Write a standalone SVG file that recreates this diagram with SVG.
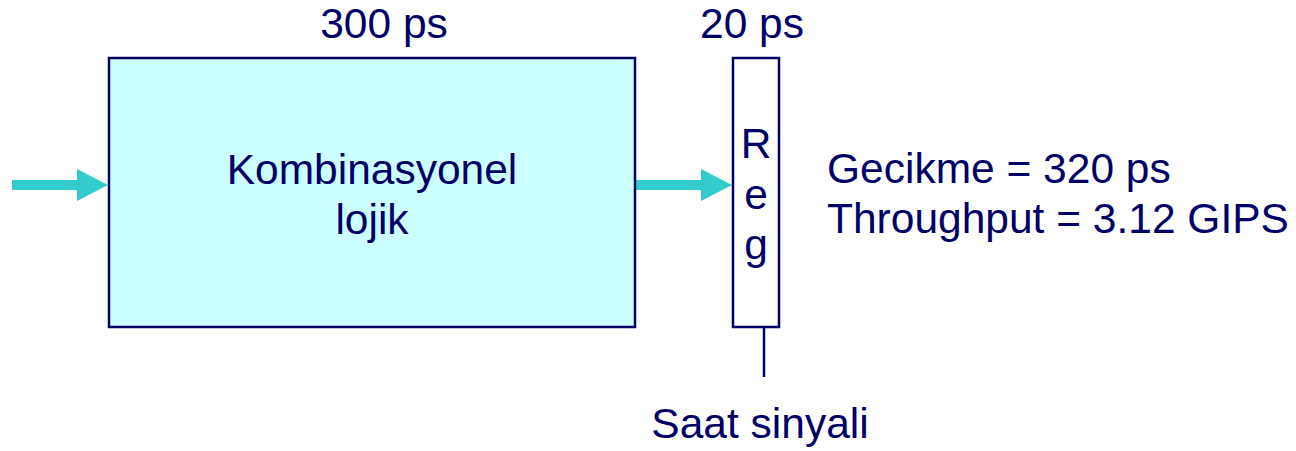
<svg xmlns="http://www.w3.org/2000/svg" width="1296" height="451" viewBox="0 0 1296 451">
<style>
text{font-family:"Liberation Sans",Arial,sans-serif;font-size:42.5px;fill:#000066}
.box{stroke:#000066;stroke-width:2.5}
.arrow{fill:#33CCCC}
</style>
<rect width="1296" height="451" fill="#ffffff"/>
<g id="connectors">
<polygon class="arrow" points="12,180 77,180 77,169 108,185 77,201 77,190 12,190"/>
<polygon class="arrow" points="636,180 701,180 701,169 732,185 701,201 701,190 636,190"/>
<line x1="764" y1="328" x2="764" y2="377" stroke="#000066" stroke-width="2.5"/>
</g>
<g id="logic">
<rect class="box" x="109" y="58" width="526" height="269" fill="#CCFFFF"/>
<text x="372" y="184" text-anchor="middle">Kombinasyonel</text>
<text x="372" y="234" text-anchor="middle">lojik</text>
<text x="384" y="38" text-anchor="middle">300 ps</text>
</g>
<g id="reg">
<rect class="box" x="733" y="58" width="46" height="269" fill="#ffffff"/>
<text x="756" y="158" text-anchor="middle">R</text>
<text x="756" y="209" text-anchor="middle">e</text>
<text x="756" y="259" text-anchor="middle">g</text>
<text x="752" y="38" text-anchor="middle">20 ps</text>
</g>
<g id="clock">
<text x="760" y="438" text-anchor="middle">Saat sinyali</text>
</g>
<g id="stats">
<text x="827" y="183">Gecikme = 320 ps</text>
<text x="827" y="233">Throughput = 3.12 GIPS</text>
</g>
</svg>
